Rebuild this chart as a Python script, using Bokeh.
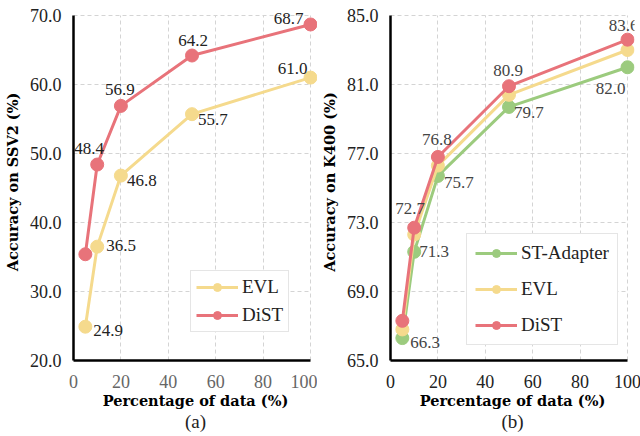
from bokeh.plotting import figure
from bokeh.layouts import row
from bokeh.models import (Title, Legend, LegendItem, FixedTicker, Grid,
                          NumeralTickFormatter, Range1d, Label)
from bokeh.embed import file_html
from bokeh.resources import INLINE

# ---------------- data ----------------
pct = [5, 10, 20, 50, 100]
ssv2_evl = [24.9, 36.5, 46.8, 55.7, 61.0]
ssv2_dist = [35.4, 48.4, 56.9, 64.2, 68.7]
k400_st = [66.3, 71.3, 75.7, 79.7, 82.0]
k400_evl = [66.8, 72.3, 76.3, 80.4, 83.0]
k400_dist = [67.3, 72.7, 76.8, 80.9, 83.6]

ssv2_ticks = [20, 30, 40, 50, 60, 70]
k400_ticks = [65, 69, 73, 77, 81, 85]
x_ticks = [0, 20, 40, 60, 80, 100]
x_bounds = (0, 100)
ssv2_bounds = (20, 70)
k400_bounds = (65, 85)

# label visibility (style)
ssv2_evl_show = [True, True, True, True, True]
ssv2_dist_show = [False, True, True, True, True]
k400_st_show = [True, True, True, True, True]
k400_dist_show = [False, True, True, True, True]

RED = "#E8737A"
YEL = "#F5DA8D"
GRN = "#9CCB7E"
FONT = "'Liberation Serif', 'Times New Roman', serif"
BOLD_FONT = "DejaVu Serif"
HAS_CROSS = "cross_bounds" in Grid.properties()


def base_fig(ylab, ybounds, yticks, border_left, border_right, xtick_color):
    # small headroom beyond the last tick so that edge markers and labels are not cut
    ypad = (ybounds[1] - ybounds[0]) * 12.0 / 345.0
    xpad = (x_bounds[1] - x_bounds[0]) * 7.0 / 237.0
    p = figure(frame_width=244, frame_height=357, output_backend="svg", toolbar_location=None,
               x_range=Range1d(x_bounds[0], x_bounds[1] + xpad),
               y_range=Range1d(ybounds[0], ybounds[1] + ypad),
               min_border_left=border_left, min_border_right=border_right, min_border_top=3,
               min_border_bottom=76)
    p.outline_line_color = None
    p.background_fill_color = "white"
    for g in (p.xgrid, p.ygrid):
        g.grid_line_color = "#d4d4d4"
        g.grid_line_dash = "4 3"
        g.grid_line_width = 1
    if HAS_CROSS:
        p.xgrid.cross_bounds = ybounds
        p.ygrid.cross_bounds = x_bounds
    p.xaxis.bounds = x_bounds
    p.yaxis.bounds = ybounds
    p.xaxis.ticker = FixedTicker(ticks=x_ticks)
    p.yaxis.ticker = FixedTicker(ticks=yticks)
    p.yaxis.formatter = NumeralTickFormatter(format="0.0")
    for ax in (p.xaxis, p.yaxis):
        ax.axis_line_color = "black"
        ax.axis_line_width = 2.5
        ax.major_tick_line_color = None
        ax.minor_tick_line_color = None
        ax.major_label_text_font = FONT
        ax.major_label_text_font_size = "18px"
        ax.axis_label_text_font = BOLD_FONT
        ax.axis_label_text_font_size = "14.5px"
        ax.axis_label_text_font_style = "bold"
        ax.axis_label_text_color = "black"
    p.yaxis.major_label_text_color = "#222222"
    p.xaxis.major_label_text_color = xtick_color
    p.xaxis.axis_label = "Percentage of data (%)"
    p.yaxis.axis_label = ylab
    p.xaxis.major_label_standoff = 8
    p.xaxis.axis_label_standoff = 1
    p.yaxis.major_label_standoff = 6
    p.yaxis.axis_label_standoff = 6
    return p


def series(p, ys, color):
    r1 = p.line(pct, ys, line_color=color, line_width=3)
    r2 = p.scatter(pct, ys, size=13, fill_color=color, line_color=color)
    return [r1, r2]


def labels(p, ys, show, xo, yo, align, color):
    for i in range(len(ys)):
        if show[i]:
            p.add_layout(Label(x=pct[i], y=ys[i], text=f"{ys[i]:.1f}", x_offset=xo[i], y_offset=-yo[i],
                               text_align=align[i], text_baseline="middle", text_font=FONT,
                               text_font_size="17px", text_color=color))


# ---------------- panel (a) ----------------
pa = base_fig("Accuracy on SSV2 (%)", ssv2_bounds, ssv2_ticks, 73, 0, "#666666")
ra_evl = series(pa, ssv2_evl, YEL)
ra_dist = series(pa, ssv2_dist, RED)
labels(pa, ssv2_evl, ssv2_evl_show, [8, 9, 6, 6, -3], [4, -1, 5, 5, -9],
       ["left", "left", "left", "left", "right"], "#222222")
labels(pa, ssv2_dist, ssv2_dist_show, [0, -8, -1, 1, -7], [0, -16, -16, -15, -6],
       ["center", "center", "center", "center", "right"], "#222222")
leg_a = Legend(items=[LegendItem(label="EVL", renderers=ra_evl), LegendItem(label="DiST", renderers=ra_dist)],
               location=(117, 28))
pa.add_layout(leg_a)
pa.add_layout(Title(text="(a)", align="center", vertical_align="top", text_font=FONT, text_font_size="19px",
                    text_font_style="normal", text_color="#222222", standoff=-2), "below")

# ---------------- panel (b) ----------------
pb = base_fig("Accuracy on K400 (%)", k400_bounds, k400_ticks, 70, 10, "#222222")
rb_st = series(pb, k400_st, GRN)
rb_evl = series(pb, k400_evl, YEL)
rb_dist = series(pb, k400_dist, RED)
labels(pb, k400_st, k400_st_show, [8, 5, 6, 5, -2], [4, 0, 7, 6, 21],
       ["left", "left", "left", "left", "right"], "#444444")
labels(pb, k400_dist, k400_dist_show, [0, -4, -1, -1, -4], [0, -19, -17, -16, -14],
       ["center", "center", "center", "center", "center"], "#444444")
leg_b = Legend(items=[LegendItem(label="ST-Adapter", renderers=rb_st),
                      LegendItem(label="EVL", renderers=rb_evl),
                      LegendItem(label="DiST", renderers=rb_dist)],
               location=(76, 15))
pb.add_layout(leg_b)
pb.add_layout(Title(text="(b)", align="center", vertical_align="top", text_font=FONT, text_font_size="19px",
                    text_font_style="normal", text_color="#222222", standoff=-2), "below")

for p, sp, pad in ((pa, 6, 5), (pb, 14, 8)):
    lg = p.legend[0]
    lg.label_text_font = FONT
    lg.label_text_font_size = "19px"
    lg.label_text_color = "#222222"
    lg.glyph_width = 42
    lg.glyph_height = 20
    lg.label_height = 20
    lg.label_standoff = 4
    lg.spacing = sp
    lg.padding = pad
    lg.margin = 0
    lg.border_line_color = "#cccccc"
    lg.border_line_width = 1.5
    lg.background_fill_alpha = 1

layout = row(pa, pb)
open("out.html", "w").write(file_html(layout, INLINE))
